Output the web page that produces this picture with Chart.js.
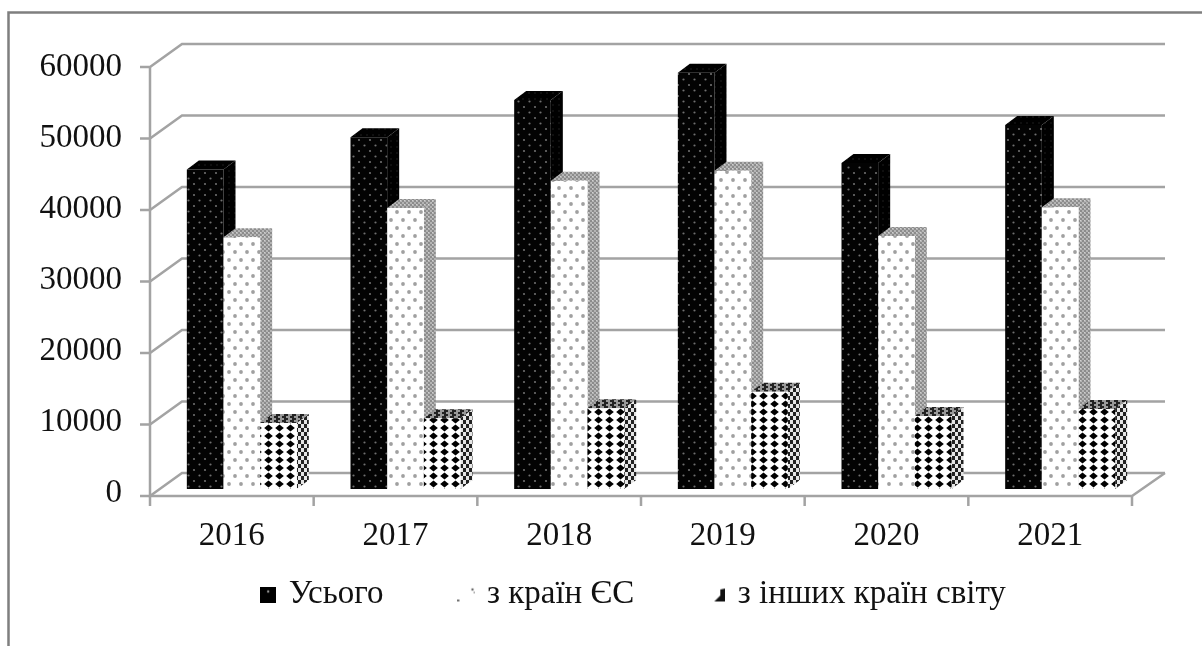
<!DOCTYPE html>
<html><head><meta charset="utf-8">
<style>html,body{margin:0;padding:0;background:#fff}#w{width:1202px;height:646px;position:relative}</style>
<script src="https://cdn.jsdelivr.net/npm/chart.js@4/dist/chart.umd.min.js"></script>
</head><body><div id="w"><canvas id="c" width="1202" height="646"></canvas></div>
<script>
const categories = ['2016','2017','2018','2019','2020','2021'];
const total = [44700,49200,54400,58200,45600,50900];
const eu = [35200,39300,43100,44500,35400,39400];
const other = [9230,9900,11300,13600,10200,11200];
const seriesNames = ['Усього','з країн ЄС','з інших країн світу'];
const yTicks = [0,10000,20000,30000,40000,50000,60000];
const FONT = '"Liberation Serif","Times New Roman",serif';
const GREY = '#a3a3a3';

function tile(w,h,fn){const c=document.createElement('canvas');c.width=w;c.height=h;fn(c.getContext('2d'));return c;}
function pat(w,h,fn){return document.createElement('canvas').getContext('2d').createPattern(tile(w,h,fn),'repeat');}
function dot(g,x,y,r,col){g.fillStyle=col;g.beginPath();g.arc(x,y,r,0,7);g.fill();}
function diamond(g,x,y,a,b){g.fillStyle='#000';g.beginPath();g.moveTo(x-a,y);g.lineTo(x,y-b);g.lineTo(x+a,y);g.lineTo(x,y+b);g.closePath();g.fill();}

const pBlack = pat(11,11,g=>{g.fillStyle='#030303';g.fillRect(0,0,11,11);dot(g,2.5,2.5,1.1,'#6f6f6f');dot(g,8,8,1.1,'#6f6f6f');});
const pBlackSide = pat(6,6,g=>{g.fillStyle='#000';g.fillRect(0,0,6,6);dot(g,3,3,.7,'#2a2a2a');});
const pEu = pat(12,16,g=>{g.fillStyle='#fff';g.fillRect(0,0,12,16);dot(g,3,4,1.9,'#a0a0a0');dot(g,9,12,1.9,'#a0a0a0');});
const pGreySide = pat(4,4,g=>{g.fillStyle='#b4b4b4';g.fillRect(0,0,4,4);g.fillStyle='#8c8c8c';g.fillRect(0,0,2,2);g.fillRect(2,2,2,2);g.fillStyle='#d0d0d0';g.fillRect(2,0,1,1);});
const pOther = pat(11,8,g=>{g.fillStyle='#fff';g.fillRect(0,0,11,8);diamond(g,5.5,4,4.3,3.4);});
const pOtherSide = pat(6,8,g=>{g.fillStyle='#e6e6e6';g.fillRect(0,0,6,8);g.fillStyle='#222';g.fillRect(0,0,3,4);g.fillRect(3,4,3,4);});
const pOtherTop = pat(8,4,g=>{g.fillStyle='#999';g.fillRect(0,0,8,4);g.fillStyle='#222';g.fillRect(0,0,4,2);g.fillRect(2,2,4,2);});

const swatches = [
 tile(16,16,g=>{g.fillStyle='#000';g.fillRect(0,0,16,16);dot(g,8,5,1.2,'#999');}),
 tile(18,16,g=>{g.fillStyle='#fff';g.fillRect(0,0,18,16);dot(g,15,3,1.2,'#666');dot(g,17,6,1,'#999');dot(g,1,14,1,'#444');}),
 tile(16,16,g=>{g.fillStyle='#fff';g.fillRect(0,0,16,16);g.fillStyle='#111';g.beginPath();g.moveTo(16,2);g.lineTo(16,15);g.lineTo(5,15);g.lineTo(11,9);g.lineTo(11,3);g.closePath();g.fill();})
];
const sideFill=[pBlackSide,pGreySide,pOtherSide], topFill=[pBlackSide,pGreySide,pOtherTop];
const BAR_SHIFT_X=10, BAR_DX=12, BAR_DY=9, FRONT_DY=7, BACK_DY=16, BACK_DX=32, TICK=10;
const LEGEND_PAD=79, LEGEND_H=58;

const scene = {
 id:'scene',
 beforeLayout(ch){ const lg=ch.legend; if(lg && !lg._fitWrapped){ const f=lg.fit; lg.fit=function(){ f.call(this); this.height=LEGEND_H; }; lg._fitWrapped=true; } },
 afterLayout(ch){ const lg=ch.legend; lg.left=68; lg.right=1202; lg.top=595-LEGEND_PAD-17; },
 beforeDraw(ch){
  const g=ch.ctx; g.save();
  g.strokeStyle='#7f7f7f'; g.lineWidth=2.5;
  g.beginPath(); g.moveTo(8.5,646); g.lineTo(8.5,12.5); g.lineTo(1202,12.5); g.stroke();
  g.restore();
 },
 beforeDatasetsDraw(ch){
  const g=ch.ctx, yb=ch.scales.yb, xs=ch.scales.x, L=xs.left, R=xs.right;
  g.save(); g.strokeStyle=GREY; g.lineWidth=2.5; g.lineCap='butt';
  yTicks.forEach(v=>{
   const fy=yb.getPixelForValue(v)+FRONT_DY, by=yb.getPixelForValue(v)-BACK_DY;
   g.beginPath(); g.moveTo(L-TICK,fy); g.lineTo(L,fy); g.lineTo(L+BACK_DX,by); g.lineTo(R+BACK_DX+1,by); g.stroke();
  });
  const y0=yb.getPixelForValue(0), yTop=yb.getPixelForValue(60000);
  g.beginPath(); g.moveTo(L,yTop+FRONT_DY); g.lineTo(L,y0+FRONT_DY); g.lineTo(R,y0+FRONT_DY); g.lineTo(R+BACK_DX+1,y0-BACK_DY); g.stroke();
  for(let i=0;i<=categories.length;i++){
   const x=i<categories.length? xs.getPixelForTick(i)-(R-L)/categories.length/2 : R;
   g.beginPath(); g.moveTo(x,y0+FRONT_DY); g.lineTo(x,y0+FRONT_DY+10); g.stroke();
  }
  g.restore();
  // painter's order: first series at the back, each later series overlapping its neighbour's side face
  [0,1,2].forEach(i=>{
   const meta=ch.getDatasetMeta(i);
   g.save(); g.translate(BAR_SHIFT_X,0);
   meta.data.forEach(el=>{
    const p=el.getProps(['x','y','base','width'],true);
    const l=p.x-p.width/2, r=p.x+p.width/2;
    g.fillStyle=sideFill[i];
    g.beginPath(); g.moveTo(r,p.y); g.lineTo(r+BAR_DX,p.y-BAR_DY); g.lineTo(r+BAR_DX,p.base-BAR_DY); g.lineTo(r,p.base); g.closePath(); g.fill();
    g.fillStyle=topFill[i];
    g.beginPath(); g.moveTo(l,p.y); g.lineTo(l+BAR_DX,p.y-BAR_DY); g.lineTo(r+BAR_DX,p.y-BAR_DY); g.lineTo(r,p.y); g.closePath(); g.fill();
   });
   meta.controller.draw();
   g.restore();
  });
 },
 beforeDatasetDraw(){ return false; }
};

new Chart(document.getElementById('c'),{
 type:'bar',
 data:{labels:categories,datasets:[
  {label:seriesNames[0],data:total,backgroundColor:pBlack,yAxisID:'yb'},
  {label:seriesNames[1],data:eu,backgroundColor:pEu,yAxisID:'yb'},
  {label:seriesNames[2],data:other,backgroundColor:pOther,yAxisID:'yb'},
  {label:'',data:[],yAxisID:'y',hidden:true}
 ]},
 plugins:[scene],
 options:{
  responsive:false,animation:false,
  devicePixelRatio:1,
  layout:{padding:{left:0,right:70,top:67,bottom:0}},
  datasets:{bar:{barPercentage:1,categoryPercentage:0.672,borderWidth:0}},
  scales:{
   x:{grid:{display:false},border:{display:false},
      ticks:{font:{family:FONT,size:33},color:'#111',padding:16,maxRotation:0,minRotation:0},
      afterFit(s){s.height=95;}},
   y:{position:'left',min:0,max:60000,grid:{display:false},border:{display:false},
      afterBuildTicks(s){s.ticks=yTicks.map(v=>({value:v}));},
      ticks:{font:{family:FONT,size:33},color:'#111',padding:20,autoSkip:false,callback:v=>String(v)},
      afterFit(s){s.width=150;}},
   yb:{display:false,min:-560,max:59020}
  },
  plugins:{
   tooltip:{enabled:false},
   legend:{position:'bottom',
    labels:{usePointStyle:true,boxWidth:8,boxHeight:16,padding:LEGEND_PAD,color:'#111',font:{family:FONT,size:33},
     generateLabels:()=>seriesNames.map((t,i)=>({text:t,pointStyle:swatches[i],fillStyle:'#000',lineWidth:0,hidden:false,datasetIndex:i,fontColor:'#111'}))}}
  }
 }
});
</script></body></html>
